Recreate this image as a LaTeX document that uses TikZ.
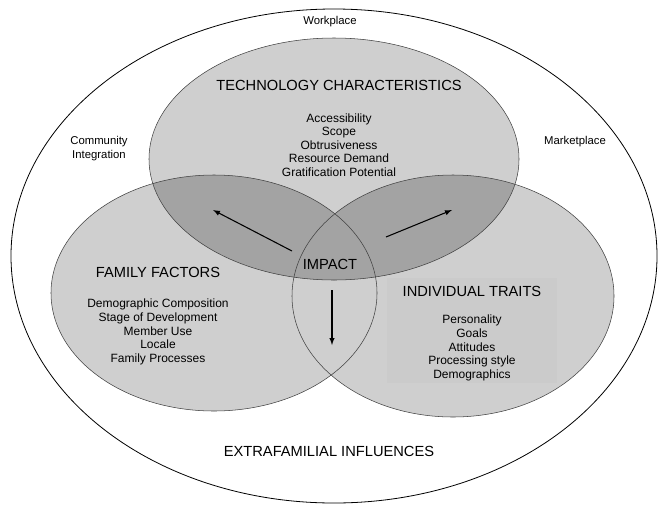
\documentclass[tikz,border=0pt]{standalone}
\usepackage{fontspec}
\setsansfont{Liberation Sans}

\def\ux{0.75pt}
\def\uy{-0.75pt}

\begin{document}
\begin{tikzpicture}[x=\ux,y=\uy, font=\sffamily]
		\tikzset{
			zone/.style={fill=#1},
			zone1/.style={zone=black!19},
			zone2/.style={zone=black!36},
			rim/.style={draw=black!75, thin},
			heading/.style={font=\sffamily\fontsize{11}{13}\selectfont},
			items/.style={align=center, font=\sffamily\fontsize{9}{10.2}\selectfont},
			place/.style={align=center, font=\sffamily\fontsize{8.5}{10.5}\selectfont},
			flow/.style={-latex, thick},
		}
		\useasboundingbox (0,0) rectangle (660,504);

		% the three spheres
		\fill[zone1] (334,159) ellipse [x radius=185, y radius=121];
		\fill[zone1] (214,293) ellipse [x radius=163, y radius=118];
		\fill[zone1] (453,296) ellipse [x radius=161, y radius=121];
		\begin{scope}
			\clip (334,159) ellipse [x radius=185, y radius=121];
			\fill[zone2] (214,293) ellipse [x radius=163, y radius=118];
			\fill[zone2] (453,296) ellipse [x radius=161, y radius=121];
		\end{scope}
		\fill[black!20.5] (387,278) rectangle (557,383);
		\draw[rim] (334,159) ellipse [x radius=185, y radius=121];
		\draw[rim] (214,293) ellipse [x radius=163, y radius=118];
		\draw[rim] (453,296) ellipse [x radius=161, y radius=121];

		% outer ring
		\draw[semithick] (334,256) ellipse [x radius=323, y radius=247];

		\node[place] (work) at (330,22) {Workplace};
		\node[place] (community) at (99,149) {Community\\Integration};
		\node[place] (market) at (575,142) {Marketplace};

		\node[heading] (tech) at (339,85) {TECHNOLOGY CHARACTERISTICS};
		\node[items] (techlist) at (339,145) {Accessibility\\Scope\\Obtrusiveness\\Resource Demand\\Gratification Potential};

		\node[heading] (family) at (158,272) {FAMILY FACTORS};
		\node[items] (familylist) at (158,332) {Demographic Composition\\Stage of Development\\Member Use\\Locale\\Family Processes};

		\node[heading] (indiv) at (472,291) {INDIVIDUAL TRAITS};
		\node[items] (indivlist) at (472,348) {Personality\\Goals\\Attitudes\\Processing style\\Demographics};

		\node[heading] (impact) at (330,264) {IMPACT};
		\node[heading] (extra) at (329,451) {EXTRAFAMILIAL INFLUENCES};

		% arrows out of the impact zone
		\coordinate (a1) at (292,251);
		\coordinate (a2) at (213,210);
		\coordinate (b1) at (386,237);
		\coordinate (b2) at (452,210);
		\coordinate (c1) at (332,290);
		\coordinate (c2) at (332,345);
		\draw[flow] (a1) -- (a2);
		\draw[flow] (b1) -- (b2);
		\draw[flow] (c1) -- (c2);

\end{tikzpicture}
\end{document}
